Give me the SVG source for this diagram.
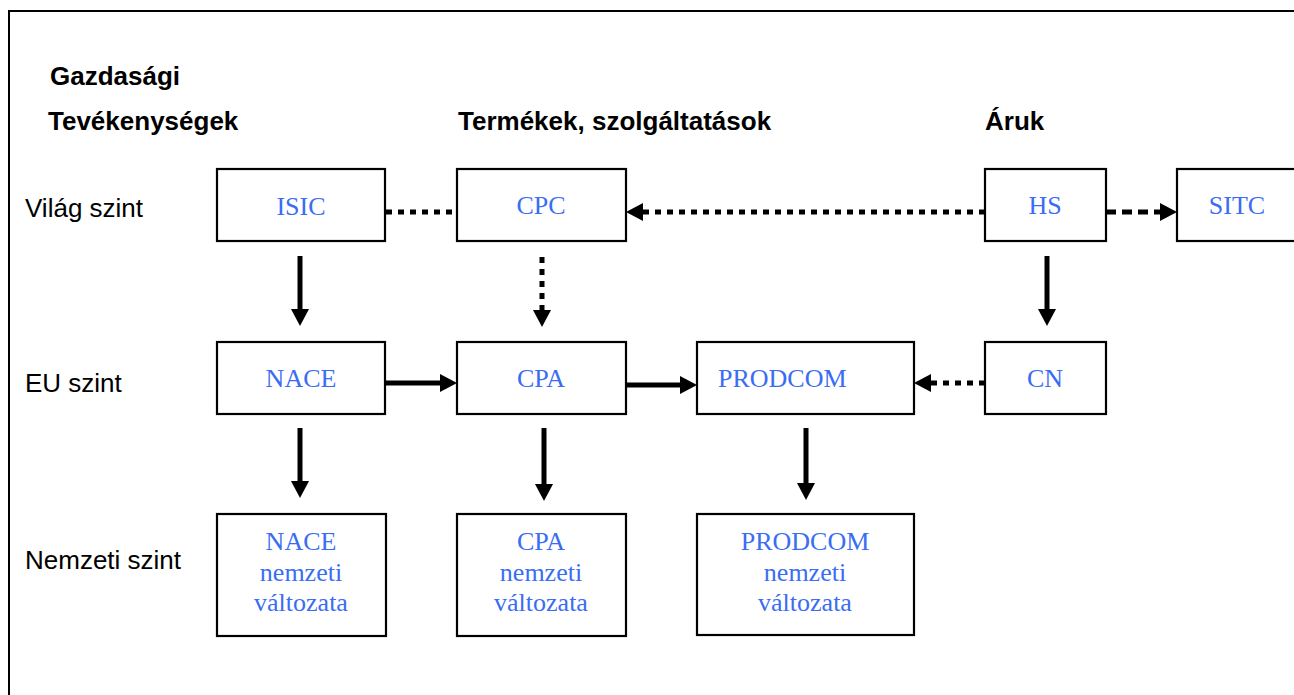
<svg xmlns="http://www.w3.org/2000/svg" width="1294" height="695" viewBox="0 0 1294 695">
<style>
.frame{fill:none;stroke:#000;stroke-width:2}
.box{fill:#fff;stroke:#000;stroke-width:2.2}
.nt{font-family:"Liberation Serif","Times New Roman",serif;font-size:26px;fill:#3a6cf4;text-anchor:middle}
.nt.st{text-anchor:start}
.hd{font-family:"Liberation Sans",Arial,sans-serif;font-size:26px;font-weight:bold;fill:#000}
.lv{font-family:"Liberation Sans",Arial,sans-serif;font-size:26px;fill:#000}
.solid{stroke:#000;stroke-width:5;fill:none}
.dot{stroke:#000;stroke-width:5;fill:none;stroke-dasharray:6 6}
.dot2{stroke:#000;stroke-width:5;fill:none;stroke-dasharray:10 6}
</style>
<defs>
<marker id="ah" markerUnits="userSpaceOnUse" markerWidth="18" markerHeight="18" viewBox="0 0 17 18" refX="0" refY="9" orient="auto">
<path d="M0,0 L17,9 L0,18 Z" fill="#000"/>
</marker>
</defs>
<rect width="1294" height="695" fill="#fff"/>
<rect class="frame" x="9" y="11" width="1300" height="700"/>

<g id="headers">
<text class="hd" x="50" y="85">Gazdasági</text>
<text class="hd" x="48" y="130">Tevékenységek</text>
<text class="hd" x="458" y="130">Termékek, szolgáltatások</text>
<text class="hd" x="985" y="130">Áruk</text>
</g>
<g id="levels">
<text class="lv" x="25" y="217">Világ szint</text>
<text class="lv" x="25" y="392">EU szint</text>
<text class="lv" x="25" y="569">Nemzeti szint</text>
</g>

<g id="connectors">
<line class="dot" x1="386" y1="212" x2="457" y2="212"/>
<line class="dot" x1="985" y1="212" x2="643" y2="212" marker-end="url(#ah)"/>
<line class="dot2" x1="1106" y1="212" x2="1160" y2="212" marker-end="url(#ah)"/>
<line class="solid" x1="300" y1="256" x2="300" y2="309" marker-end="url(#ah)"/>
<line class="dot" x1="542" y1="257" x2="542" y2="310" marker-end="url(#ah)"/>
<line class="solid" x1="1047" y1="256" x2="1047" y2="309" marker-end="url(#ah)"/>
<line class="solid" x1="385" y1="383" x2="440" y2="383" marker-end="url(#ah)"/>
<line class="solid" x1="626" y1="385" x2="680" y2="385" marker-end="url(#ah)"/>
<line class="dot" x1="985" y1="383" x2="931" y2="383" marker-end="url(#ah)"/>
<line class="solid" x1="300" y1="428" x2="300" y2="481" marker-end="url(#ah)"/>
<line class="solid" x1="544" y1="428" x2="544" y2="484" marker-end="url(#ah)"/>
<line class="solid" x1="806" y1="428" x2="806" y2="483" marker-end="url(#ah)"/>
</g>

<g id="isic"><rect class="box" x="217" y="169" width="168" height="72"/><text class="nt" x="301" y="215">ISIC</text></g>
<g id="cpc"><rect class="box" x="457" y="169" width="169" height="72"/><text class="nt" x="541" y="214">CPC</text></g>
<g id="hs"><rect class="box" x="985" y="169" width="121" height="72"/><text class="nt" x="1045" y="214">HS</text></g>
<g id="sitc"><rect class="box" x="1177" y="169" width="140" height="72"/><text class="nt" x="1237" y="214">SITC</text></g>

<g id="nace"><rect class="box" x="217" y="342" width="168" height="72"/><text class="nt" x="301" y="387">NACE</text></g>
<g id="cpa"><rect class="box" x="457" y="342" width="169" height="72"/><text class="nt" x="541" y="387">CPA</text></g>
<g id="prodcom"><rect class="box" x="697" y="342" width="217" height="72"/><text class="nt st" x="718" y="387">PRODCOM</text></g>
<g id="cn"><rect class="box" x="985" y="342" width="121" height="72"/><text class="nt" x="1045" y="387">CN</text></g>

<g id="nace-nat"><rect class="box" x="217" y="514" width="169" height="122"/><text class="nt" x="301" y="550">NACE</text><text class="nt" x="301" y="581">nemzeti</text><text class="nt" x="301" y="611">változata</text></g>
<g id="cpa-nat"><rect class="box" x="457" y="514" width="169" height="122"/><text class="nt" x="541" y="550">CPA</text><text class="nt" x="541" y="581">nemzeti</text><text class="nt" x="541" y="611">változata</text></g>
<g id="prodcom-nat"><rect class="box" x="697" y="514" width="217" height="121"/><text class="nt" x="805" y="550">PRODCOM</text><text class="nt" x="805" y="581">nemzeti</text><text class="nt" x="805" y="611">változata</text></g>
</svg>
